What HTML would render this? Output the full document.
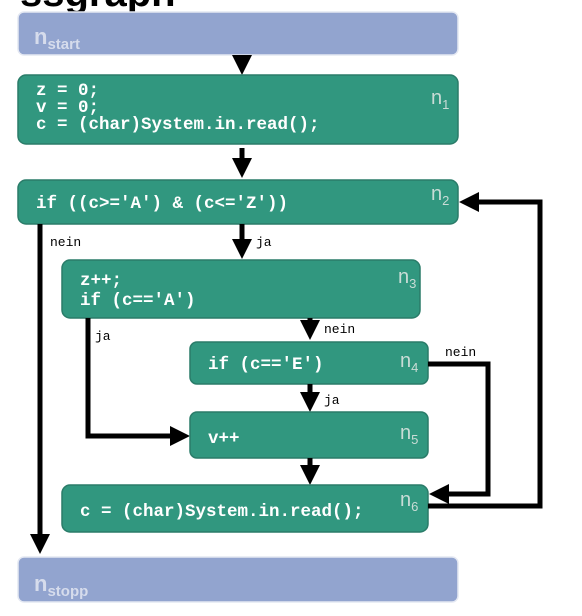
<!DOCTYPE html>
<html><head><meta charset="utf-8"><style>
html,body{margin:0;padding:0;background:#fff;width:582px;height:616px;overflow:hidden}
svg{display:block}
.c{font-family:"Liberation Mono",monospace;font-weight:bold;font-size:17.5px;fill:#fff}
.l{font-family:"Liberation Sans",sans-serif;font-size:20px;fill:#c9dcd6}
.ls{font-family:"Liberation Sans",sans-serif;font-size:13px;fill:#c9dcd6}
.lb{font-family:"Liberation Sans",sans-serif;font-size:22px;fill:#d6dcec;font-weight:bold}
.lbs{font-family:"Liberation Sans",sans-serif;font-size:15px;fill:#d6dcec;font-weight:bold}
.t{font-family:"Liberation Mono",monospace;font-size:13px;fill:#000}
.g{fill:#31977f;stroke:#2a7c69;stroke-width:1.5}
.b{fill:#92a4cf;stroke:#e4e8f2;stroke-width:1.5}
.w{stroke:#000;stroke-width:5;fill:none}
</style></head><body>
<svg width="582" height="616" viewBox="0 0 582 616" xmlns="http://www.w3.org/2000/svg">
<defs><marker id="a" markerWidth="4" markerHeight="4" refX="2.2" refY="2" orient="auto" markerUnits="strokeWidth"><path d="M0,0 L4,2 L0,4 z" fill="#000"/></marker></defs>
<text x="20" y="6" font-family="Liberation Sans,sans-serif" font-weight="bold" font-size="40" fill="#000">ssgraph</text>
<rect class="b" x="18" y="12" width="440" height="43" rx="6"/>
<text class="lb" x="34" y="44">n<tspan class="lbs" dy="5">start</tspan></text>
<line class="w" x1="242" y1="55" x2="242" y2="66" marker-end="url(#a)"/>
<rect class="g" x="18" y="75" width="440" height="69" rx="8"/>
<text class="c" x="36" y="95">z = 0;</text>
<text class="c" x="36" y="112">v = 0;</text>
<text class="c" x="36" y="129">c = (char)System.in.read();</text>
<text class="l" x="431" y="104">n<tspan class="ls" dy="5">1</tspan></text>
<line class="w" x1="242" y1="148" x2="242" y2="169" marker-end="url(#a)"/>
<rect class="g" x="18" y="180" width="440" height="44" rx="8"/>
<text class="c" x="36" y="208">if ((c&gt;='A') &amp; (c&lt;='Z'))</text>
<text class="l" x="431" y="200">n<tspan class="ls" dy="5">2</tspan></text>
<line class="w" x1="40" y1="224" x2="40" y2="545" marker-end="url(#a)"/>
<text class="t" x="50" y="246">nein</text>
<line class="w" x1="242" y1="224" x2="242" y2="250" marker-end="url(#a)"/>
<text class="t" x="256" y="246">ja</text>
<rect class="g" x="62" y="260" width="358" height="58" rx="8"/>
<text class="c" x="80" y="285">z++;</text>
<text class="c" x="80" y="305">if (c=='A')</text>
<text class="l" x="398" y="283">n<tspan class="ls" dy="5">3</tspan></text>
<polyline class="w" points="88,318 88,436 181,436" marker-end="url(#a)"/>
<text class="t" x="95" y="340">ja</text>
<line class="w" x1="310" y1="318" x2="310" y2="331" marker-end="url(#a)"/>
<text class="t" x="324" y="333">nein</text>
<rect class="g" x="190" y="342" width="238" height="42" rx="7"/>
<text class="c" x="208" y="369">if (c=='E')</text>
<text class="l" x="400" y="367">n<tspan class="ls" dy="5">4</tspan></text>
<polyline class="w" points="428,364 488,364 488,494 438,494" marker-end="url(#a)"/>
<text class="t" x="445" y="356">nein</text>
<line class="w" x1="310" y1="384" x2="310" y2="403" marker-end="url(#a)"/>
<text class="t" x="324" y="404">ja</text>
<rect class="g" x="190" y="412" width="238" height="46" rx="7"/>
<text class="c" x="208" y="443">v++</text>
<text class="l" x="400" y="439">n<tspan class="ls" dy="5">5</tspan></text>
<line class="w" x1="310" y1="458" x2="310" y2="476" marker-end="url(#a)"/>
<rect class="g" x="62" y="485" width="366" height="47" rx="8"/>
<text class="c" x="80" y="516">c = (char)System.in.read();</text>
<text class="l" x="400" y="506">n<tspan class="ls" dy="5">6</tspan></text>
<polyline class="w" points="428,506 540,506 540,202 468,202" marker-end="url(#a)"/>
<rect class="b" x="18" y="557" width="440" height="45" rx="6"/>
<text class="lb" x="34" y="591">n<tspan class="lbs" dy="5">stopp</tspan></text>
</svg>
</body></html>
